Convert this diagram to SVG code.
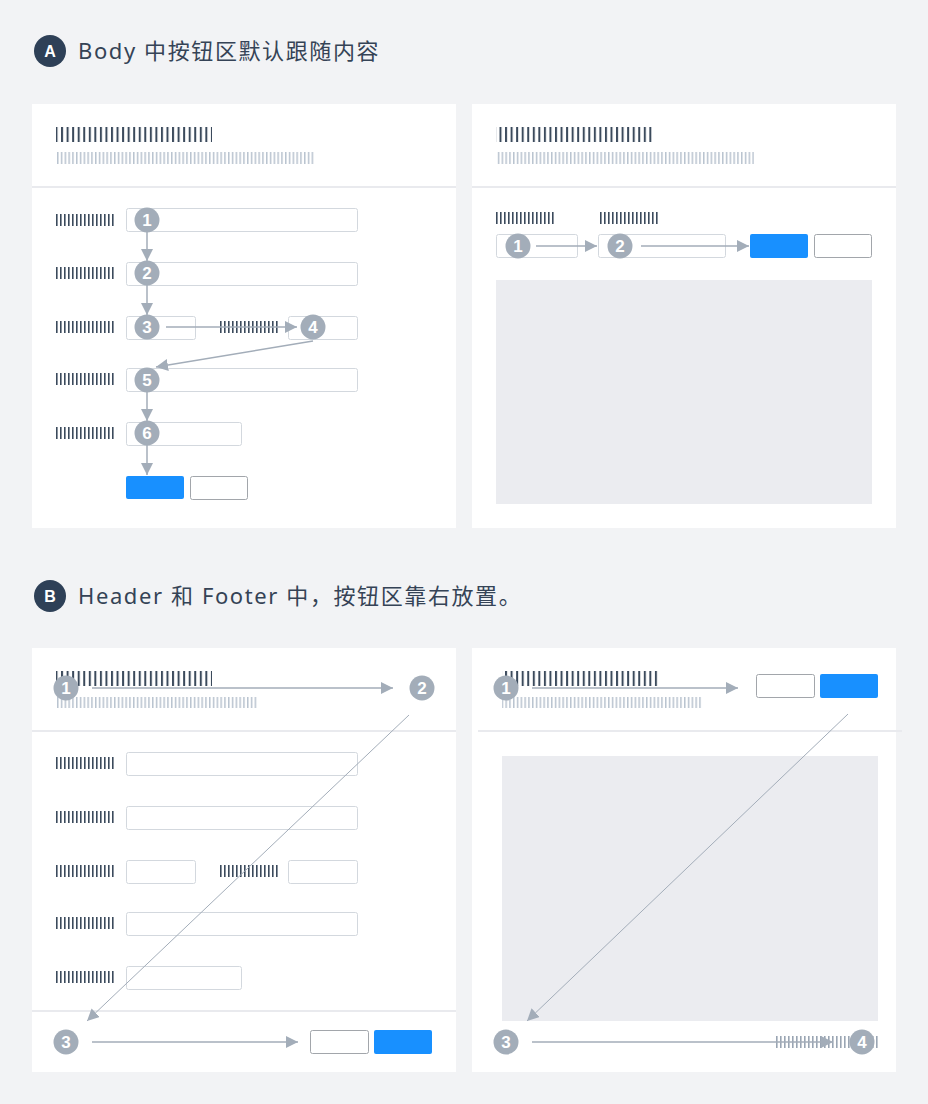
<svg xmlns="http://www.w3.org/2000/svg" width="928" height="1104" viewBox="0 0 928 1104">
<style>
.title{font-family:"Noto Sans","Noto Sans CJK SC",sans-serif;font-size:22px;letter-spacing:1.6px;fill:#354356}
.badge{fill:#2e4057}
.badgeT{font-family:"Liberation Sans",sans-serif;font-weight:bold;font-size:15px;fill:#fff;text-anchor:middle}
.panel{fill:#fff}
.sep{stroke:#e9eaee;stroke-width:2}
.inp{fill:#fff;stroke:#d3d8de;stroke-width:1}
.btnW{fill:#fff;stroke:#a2a6ab;stroke-width:1}
.btnB{fill:#1890ff}
.area{fill:#ebecf0}
.step{fill:#a3adb9}
.stepT{font-family:"Liberation Sans",sans-serif;font-weight:bold;font-size:17px;fill:#fff;text-anchor:middle}
.ln{stroke:#a3adb9;stroke-width:1.5;fill:none}
.diag{stroke:#a3adb9;stroke-width:1;fill:none}
</style>
<defs>
<pattern id="pTitle" patternUnits="userSpaceOnUse" width="5.55" height="20"><rect x="0" y="0" width="2" height="20" fill="#3b4a5c"/></pattern>
<pattern id="pSub" patternUnits="userSpaceOnUse" width="3.8" height="20"><rect x="0" y="0" width="1.5" height="20" fill="#b9c3cf"/></pattern>
<pattern id="pLab" patternUnits="userSpaceOnUse" width="4" height="20"><rect x="0" y="0" width="1.6" height="20" fill="#3b4a5c"/></pattern>
<pattern id="pLabL" patternUnits="userSpaceOnUse" width="4" height="20"><rect x="0" y="0" width="1.6" height="20" fill="#9aa5b3"/></pattern>
<marker id="ah" markerUnits="userSpaceOnUse" markerWidth="12" markerHeight="12" refX="12" refY="6" orient="auto"><path d="M0,0 L12,6 L0,12 z" fill="#a3adb9"/></marker>
</defs>
<rect width="928" height="1104" fill="#f2f3f5"/>

<g id="heading-a">
<circle class="badge" cx="50" cy="51" r="16"/>
<text class="badgeT" x="50" y="57" style="font-size:16px">A</text>
<text class="title" x="78" y="59">Body 中按钮区默认跟随内容</text>
</g>
<g id="heading-b">
<circle class="badge" cx="50" cy="596" r="16"/>
<text class="badgeT" x="50" y="602" style="font-size:16px">B</text>
<text class="title" x="78" y="604">Header 和 Footer 中，按钮区靠右放置。</text>
</g>

<!-- Panel A left -->
<g id="panel-a-left">
<rect class="panel" x="32" y="104" width="424" height="424"/>
<rect x="56" y="127" width="156" height="15" fill="url(#pTitle)"/>
<rect x="56" y="152" width="258" height="12" fill="url(#pSub)"/>
<line class="sep" x1="32" y1="187" x2="456" y2="187"/>
<rect x="56" y="214" width="60" height="12" fill="url(#pLab)"/>
<rect class="inp" x="126.5" y="208.5" width="231" height="23" rx="2"/>
<rect x="56" y="267" width="60" height="12" fill="url(#pLab)"/>
<rect class="inp" x="126.5" y="262.5" width="231" height="23" rx="2"/>
<rect x="56" y="321" width="60" height="12" fill="url(#pLab)"/>
<rect class="inp" x="126.5" y="316.5" width="69" height="23" rx="2"/>
<rect x="218" y="321" width="60" height="12" fill="url(#pLab)"/>
<rect class="inp" x="288.5" y="316.5" width="69" height="23" rx="2"/>
<rect x="56" y="373" width="60" height="12" fill="url(#pLab)"/>
<rect class="inp" x="126.5" y="368.5" width="231" height="23" rx="2"/>
<rect x="56" y="427" width="60" height="12" fill="url(#pLab)"/>
<rect class="inp" x="126.5" y="422.5" width="115" height="23" rx="2"/>
<rect class="btnB" x="126" y="476" width="58" height="23" rx="2"/>
<rect class="btnW" x="190.5" y="476.5" width="57" height="23" rx="2"/>
</g>

<!-- Panel A right -->
<g id="panel-a-right">
<rect class="panel" x="472" y="104" width="424" height="424"/>
<rect x="496" y="127" width="156" height="15" fill="url(#pTitle)"/>
<rect x="496" y="152" width="258" height="12" fill="url(#pSub)"/>
<line class="sep" x1="472" y1="187" x2="896" y2="187"/>
<rect x="496" y="212" width="60" height="12" fill="url(#pLab)"/>
<rect x="598" y="212" width="60" height="12" fill="url(#pLab)"/>
<rect class="inp" x="496.5" y="234.5" width="81" height="23" rx="2"/>
<rect class="inp" x="598.5" y="234.5" width="127" height="23" rx="2"/>
<rect class="btnB" x="750" y="234" width="58" height="24" rx="2"/>
<rect class="btnW" x="814.5" y="234.5" width="57" height="23" rx="2"/>
<rect class="area" x="496" y="280" width="376" height="224"/>
</g>

<!-- Panel B left -->
<g id="panel-b-left">
<rect class="panel" x="32" y="648" width="424" height="424"/>
<rect x="56" y="671" width="156" height="15" fill="url(#pTitle)"/>
<rect x="56" y="697" width="202" height="11" fill="url(#pSub)"/>
<line class="sep" x1="32" y1="731" x2="456" y2="731"/>
<rect x="56" y="757" width="60" height="12" fill="url(#pLab)"/>
<rect class="inp" x="126.5" y="752.5" width="231" height="23" rx="2"/>
<rect x="56" y="811" width="60" height="12" fill="url(#pLab)"/>
<rect class="inp" x="126.5" y="806.5" width="231" height="23" rx="2"/>
<rect x="56" y="865" width="60" height="12" fill="url(#pLab)"/>
<rect class="inp" x="126.5" y="860.5" width="69" height="23" rx="2"/>
<rect x="218" y="865" width="60" height="12" fill="url(#pLab)"/>
<rect class="inp" x="288.5" y="860.5" width="69" height="23" rx="2"/>
<rect x="56" y="917" width="60" height="12" fill="url(#pLab)"/>
<rect class="inp" x="126.5" y="912.5" width="231" height="23" rx="2"/>
<rect x="56" y="971" width="60" height="12" fill="url(#pLab)"/>
<rect class="inp" x="126.5" y="966.5" width="115" height="23" rx="2"/>
<line class="sep" x1="32" y1="1011" x2="456" y2="1011"/>
<rect class="btnW" x="310.5" y="1030.5" width="58" height="23" rx="2"/>
<rect class="btnB" x="374" y="1030" width="58" height="24" rx="2"/>
</g>

<!-- Panel B right -->
<g id="panel-b-right">
<rect class="panel" x="472" y="648" width="424" height="424"/>
<rect x="502" y="671" width="156" height="15" fill="url(#pTitle)"/>
<rect x="502" y="697" width="201" height="11" fill="url(#pSub)"/>
<line class="sep" x1="478" y1="731" x2="902" y2="731"/>
<rect class="btnW" x="756.5" y="674.5" width="58" height="23" rx="2"/>
<rect class="btnB" x="820" y="674" width="58" height="24" rx="2"/>
<rect class="area" x="502" y="756" width="376" height="265"/>
<rect x="776" y="1036" width="102" height="12" fill="url(#pLabL)"/>
</g>

<g id="connectors">
<line class="ln" x1="147" y1="232" x2="147" y2="261" marker-end="url(#ah)"/>
<line class="ln" x1="147" y1="285" x2="147" y2="315" marker-end="url(#ah)"/>
<line class="ln" x1="166" y1="327" x2="297" y2="327" marker-end="url(#ah)"/>
<line class="ln" x1="313" y1="341" x2="156" y2="367" marker-end="url(#ah)"/>
<line class="ln" x1="147" y1="392" x2="147" y2="421" marker-end="url(#ah)"/>
<line class="ln" x1="147" y1="445" x2="147" y2="475" marker-end="url(#ah)"/>
<line class="ln" x1="536" y1="246" x2="597" y2="246" marker-end="url(#ah)"/>
<line class="ln" x1="641" y1="246" x2="749" y2="246" marker-end="url(#ah)"/>
<line class="ln" x1="92" y1="688" x2="393" y2="688" marker-end="url(#ah)"/>
<line class="diag" x1="409" y1="715" x2="87" y2="1021" marker-end="url(#ah)"/>
<line class="ln" x1="92" y1="1042" x2="298" y2="1042" marker-end="url(#ah)"/>
<line class="ln" x1="532" y1="688" x2="738" y2="688" marker-end="url(#ah)"/>
<line class="diag" x1="848" y1="714" x2="527" y2="1021" marker-end="url(#ah)"/>
<line class="ln" x1="532" y1="1042" x2="833" y2="1042" marker-end="url(#ah)"/>
</g>

<g id="steps-a-left">
<g id="a1"><circle class="step" cx="147" cy="220" r="12.5"/><text class="stepT" x="147" y="226">1</text></g>
<g id="a2"><circle class="step" cx="147" cy="273" r="12.5"/><text class="stepT" x="147" y="279">2</text></g>
<g id="a3"><circle class="step" cx="147" cy="327" r="12.5"/><text class="stepT" x="147" y="333">3</text></g>
<g id="a4"><circle class="step" cx="313" cy="327" r="12.5"/><text class="stepT" x="313" y="333">4</text></g>
<g id="a5"><circle class="step" cx="147" cy="380" r="12.5"/><text class="stepT" x="147" y="386">5</text></g>
<g id="a6"><circle class="step" cx="147" cy="433" r="12.5"/><text class="stepT" x="147" y="439">6</text></g>
</g>
<g id="steps-a-right">
<g id="ar1"><circle class="step" cx="518" cy="246" r="12.5"/><text class="stepT" x="518" y="252">1</text></g>
<g id="ar2"><circle class="step" cx="620" cy="246" r="12.5"/><text class="stepT" x="620" y="252">2</text></g>
</g>
<g id="steps-b-left">
<g id="b1"><circle class="step" cx="66" cy="688" r="12.5"/><text class="stepT" x="66" y="694">1</text></g>
<g id="b2"><circle class="step" cx="422" cy="688" r="12.5"/><text class="stepT" x="422" y="694">2</text></g>
<g id="b3"><circle class="step" cx="66" cy="1042" r="12.5"/><text class="stepT" x="66" y="1048">3</text></g>
</g>
<g id="steps-b-right">
<g id="br1"><circle class="step" cx="506" cy="688" r="12.5"/><text class="stepT" x="506" y="694">1</text></g>
<g id="br3"><circle class="step" cx="506" cy="1042" r="12.5"/><text class="stepT" x="506" y="1048">3</text></g>
<g id="br4"><circle class="step" cx="862" cy="1042" r="12.5"/><text class="stepT" x="862" y="1048">4</text></g>
</g>
</svg>
